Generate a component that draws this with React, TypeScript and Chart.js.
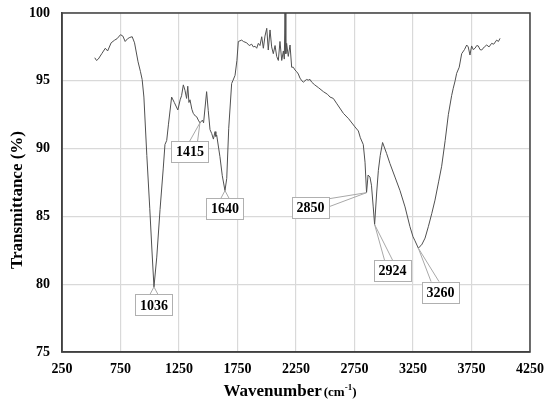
import React, { useEffect, useRef } from 'react';
import { Chart, registerables } from 'chart.js';
Chart.register(...registerables);

const wavenumbers = [
  530, 545, 560, 590, 620, 640, 670, 700, 720, 750, 770, 790, 810, 830, 850, 870, 900, 920, 935, 950,
  975, 1000, 1020, 1036, 1060, 1088, 1115, 1130, 1145, 1160, 1187, 1210, 1240, 1260, 1272, 1287, 1301, 1315, 1325, 1335,
  1344, 1360, 1372, 1390, 1401, 1415, 1429, 1450, 1460, 1486, 1500, 1515, 1530, 1544, 1558, 1565, 1572, 1600, 1620, 1643,
  1658, 1675, 1700, 1710, 1729, 1745, 1757, 1786, 1800, 1829, 1850, 1871, 1885, 1900, 1914, 1928, 1942, 1957, 1971, 1985,
  2000, 2013, 2028, 2042, 2056, 2071, 2085, 2099, 2113, 2128, 2142, 2150, 2156, 2163, 2170, 2184, 2199, 2213, 2227, 2241,
  2256, 2270, 2284, 2300, 2313, 2340, 2355, 2370, 2384, 2410, 2441, 2484, 2520, 2541, 2569, 2600, 2655, 2700, 2754, 2783,
  2800, 2825, 2840, 2853, 2866, 2882, 2895, 2910, 2922, 2940, 2954, 2970, 2990, 3024, 3053, 3096, 3139, 3182, 3224, 3250,
  3267, 3296, 3310, 3324, 3353, 3381, 3410, 3438, 3470, 3495, 3525, 3552, 3580, 3594, 3610, 3623, 3645, 3666, 3690, 3709,
  3722, 3737, 3751, 3765, 3780, 3795, 3808, 3823, 3837, 3860, 3880, 3900, 3922, 3940, 3965, 3980, 3994,
];

const transmittance = [
  96.7, 96.5, 96.6, 97.0, 97.4, 97.2, 97.8, 98.0, 98.1, 98.4, 98.3, 97.9, 98.1, 98.2, 98.25, 97.8, 96.4, 95.7, 95.1, 93.8,
  89.5, 85.6, 82.3, 79.8, 82.0, 85.5, 88.5, 90.3, 90.6, 91.8, 93.8, 93.4, 92.85, 93.6, 93.9, 94.7, 94.3, 93.7, 94.6, 93.4,
  93.6, 92.9, 92.6, 92.4, 92.35, 92.1, 91.9, 92.1, 91.9, 94.2, 92.8, 91.4, 91.1, 90.7, 91.25, 90.9, 91.0, 89.4, 88.0, 86.9,
  87.8, 91.5, 94.8, 95.0, 95.4, 96.5, 97.9, 98.0, 97.9, 97.8, 97.6, 97.7, 97.5, 97.55, 97.4, 97.76, 97.6, 98.25, 97.4, 98.3,
  98.87, 97.27, 98.75, 97.5, 97.0, 97.6, 96.8, 96.5, 97.9, 96.5, 97.2, 96.6, 100, 97.0, 97.76, 96.8, 97.64, 96.0, 96.0, 95.8,
  95.67, 95.5, 95.2, 95.0, 94.9, 95.1, 95.05, 95.1, 94.9, 94.7, 94.5, 94.2, 94.0, 93.8, 93.7, 93.3, 92.6, 92.2, 91.6, 91.3,
  90.8, 90.3, 89.0, 86.75, 88.05, 87.9, 87.3, 85.7, 84.4, 86.8, 88.4, 89.5, 90.45, 89.65, 88.9, 87.9, 86.9, 85.7, 84.24, 83.5,
  83.2, 82.65, 82.8, 82.9, 83.4, 84.24, 85.2, 86.2, 87.6, 88.7, 90.6, 92.5, 93.9, 94.45, 95.0, 95.55, 96.0, 97.0, 97.3, 97.64,
  97.5, 96.9, 97.57, 97.3, 97.4, 97.6, 97.57, 97.3, 97.27, 97.5, 97.64, 97.5, 97.76, 97.7, 98.0, 97.9, 98.13,
];

const peakLabels = ['1036', '1415', '1640', '2850', '2924', '3260'];
const peakX = [1036, 1429, 1643, 2853, 2922, 3296];
const peakY = [79.8, 91.9, 86.9, 86.75, 84.4, 82.65];

const xMin = 250;
const xMax = 4250;
const xStep = 500;
const yMin = 75;
const yMax = 100;
const yStep = 5;

const xTitle = 'Wavenumber';
const xTitleUnit = '(cm';
const xTitleSup = '-1';
const yTitle = 'Transmittance (%)';

// label box offsets in pixels from the annotated point (styling)
const labelOffsets = [
  [0, 18],
  [-10, 29],
  [0, 18],
  [-56, 15],
  [18, 46],
  [22, 44],
];

const SERIF = '"Liberation Serif", "Times New Roman", serif';

const overlayPlugin = {
  id: 'overlay',
  afterDatasetsDraw(chart: any) {
    const { ctx, chartArea, scales } = chart;
    ctx.save();
    // frame
    ctx.strokeStyle = '#404040';
    ctx.lineWidth = 1.5;
    ctx.strokeRect(chartArea.left, chartArea.top, chartArea.right - chartArea.left, chartArea.bottom - chartArea.top);

    // annotations
    const bw = 37;
    const bh = 21;
    ctx.font = `bold 14px ${SERIF}`;
    ctx.textAlign = 'center';
    ctx.textBaseline = 'middle';
    for (let i = 0; i < peakLabels.length; i++) {
      const px = scales.x.getPixelForValue(peakX[i]);
      const py = scales.y.getPixelForValue(peakY[i]);
      const cx = px + labelOffsets[i][0];
      const cy = py + labelOffsets[i][1];
      const dx = px - cx;
      const dy = py - cy;
      const tx = dx !== 0 ? (bw / 2) / Math.abs(dx) : Infinity;
      const ty = dy !== 0 ? (bh / 2) / Math.abs(dy) : Infinity;
      const t = Math.min(tx, ty);
      const ex = cx + dx * t;
      const ey = cy + dy * t;
      ctx.strokeStyle = '#a8a8a8';
      ctx.lineWidth = 1;
      const along = tx < ty ? [0, 1] : [1, 0];
      for (const s of [-4, 4]) {
        ctx.beginPath();
        ctx.moveTo(px, py);
        ctx.lineTo(ex + along[0] * s, ey + along[1] * s);
        ctx.stroke();
      }
      ctx.fillStyle = '#ffffff';
      ctx.fillRect(cx - bw / 2, cy - bh / 2, bw, bh);
      ctx.strokeStyle = '#b0b0b0';
      ctx.strokeRect(Math.round(cx - bw / 2) + 0.5, Math.round(cy - bh / 2) + 0.5, bw, bh);
      ctx.fillStyle = '#000000';
      ctx.fillText(peakLabels[i], cx, cy + 1);
    }

    // y title
    ctx.save();
    ctx.translate(18, 200);
    ctx.rotate(-Math.PI / 2);
    ctx.font = `bold 17px ${SERIF}`;
    ctx.textAlign = 'center';
    ctx.textBaseline = 'middle';
    ctx.fillText(yTitle, 0, 0);
    ctx.restore();

    // x title
    ctx.textAlign = 'left';
    ctx.textBaseline = 'alphabetic';
    const f1 = `bold 17px ${SERIF}`;
    const f2 = `bold 13px ${SERIF}`;
    const f3 = `bold 9px ${SERIF}`;
    ctx.font = f1;
    const w1 = ctx.measureText(xTitle).width;
    ctx.font = f2;
    const w2 = ctx.measureText(xTitleUnit).width;
    const w4 = ctx.measureText(')').width;
    ctx.font = f3;
    const w3 = ctx.measureText(xTitleSup).width;
    const total = w1 + 2 + w2 + w3 + w4;
    let x = 290 - total / 2;
    const base = 396;
    ctx.font = f1;
    ctx.fillText(xTitle, x, base);
    x += w1 + 2;
    ctx.font = f2;
    ctx.fillText(xTitleUnit, x, base);
    x += w2;
    ctx.font = f3;
    ctx.fillText(xTitleSup, x, base - 6);
    x += w3;
    ctx.font = f2;
    ctx.fillText(')', x, base);
    ctx.restore();
  },
};

export default function App() {
  const ref = useRef<HTMLCanvasElement>(null);
  useEffect(() => {
    document.body.style.margin = '0';
    const tickFont = { family: SERIF, size: 14, weight: 'bold' as const };
    const chart = new Chart(ref.current!, {
      type: 'scatter',
      data: {
        datasets: [
          {
            data: wavenumbers.map((x, i) => ({ x, y: transmittance[i] })),
            showLine: true,
            borderColor: '#505050',
            borderWidth: 1,
            pointRadius: 0,
            tension: 0,
          },
        ],
      },
      options: {
        responsive: false,
        animation: false,
        layout: { padding: { top: 13, right: 20, left: 0, bottom: 0 } },
        plugins: { legend: { display: false }, tooltip: { enabled: false } },
        scales: {
          x: {
            type: 'linear',
            min: xMin,
            max: xMax,
            ticks: {
              stepSize: xStep,
              font: tickFont,
              color: '#000',
              padding: 9,
              maxRotation: 0,
              autoSkip: false,
              callback: (v: any) => String(v),
            },
            grid: { color: '#d9d9d9', drawTicks: false, lineWidth: 1.2 },
            border: { color: '#404040', width: 1.5 },
            afterFit: (s: any) => {
              s.height = 54;
              s.paddingLeft = 0;
              s.paddingRight = 0;
            },
          },
          y: {
            min: yMin,
            max: yMax,
            ticks: {
              stepSize: yStep,
              font: tickFont,
              color: '#000',
              padding: 12,
              callback: (v: any) => String(v),
            },
            grid: { color: '#d9d9d9', drawTicks: false, lineWidth: 1.2 },
            border: { color: '#404040', width: 1.5 },
            afterFit: (s: any) => {
              s.width = 62;
              s.paddingTop = 0;
              s.paddingBottom = 0;
            },
          },
        },
      },
      plugins: [overlayPlugin],
    });
    return () => chart.destroy();
  }, []);
  return <canvas ref={ref} width={550} height={406} style={{ display: 'block' }} />;
}
